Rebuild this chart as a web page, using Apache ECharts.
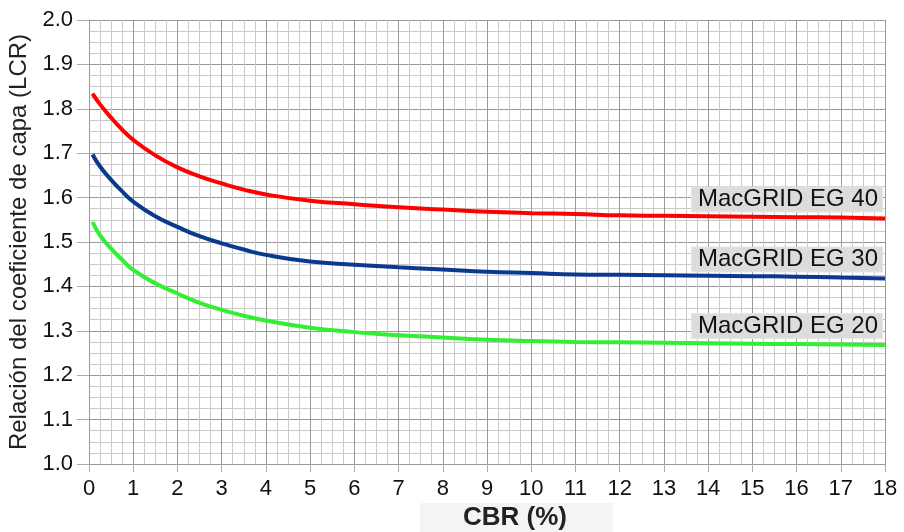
<!DOCTYPE html>
<html>
<head>
<meta charset="utf-8">
<script src="https://cdn.jsdelivr.net/npm/echarts@6/dist/echarts.min.js"></script>
<style>html,body{margin:0;padding:0;background:#fff}#c{width:904px;height:532px}</style>
</head>
<body>
<div id="c"></div>
<script>
const cbr = [0.08,0.25,0.5,0.75,1,1.5,2,2.5,3,3.5,4,5,6,7,8,9,10,11,12,13,14,15,16,17,18];
const eg40 = [1.834,1.81,1.78,1.753,1.730,1.695,1.668,1.648,1.632,1.618,1.607,1.593,1.585,1.578,1.573,1.568,1.565,1.563,1.560,1.559,1.558,1.557,1.556,1.555,1.553];
const eg30 = [1.697,1.67,1.64,1.614,1.591,1.558,1.534,1.513,1.497,1.483,1.471,1.456,1.449,1.443,1.438,1.433,1.430,1.427,1.426,1.425,1.424,1.423,1.422,1.420,1.418];
const eg20 = [1.545,1.515,1.485,1.46,1.437,1.407,1.384,1.363,1.347,1.334,1.323,1.307,1.297,1.290,1.285,1.280,1.277,1.275,1.274,1.273,1.272,1.271,1.270,1.269,1.268];
const seriesNames = ['MacGRID EG 40','MacGRID EG 30','MacGRID EG 20'];
const xTitle = 'CBR (%)';
const yTitle = 'Relación del coeficiente de capa (LCR)';

const FONT = 'Liberation Sans, Arial, sans-serif';
function mk(name, vals, color) {
  const data = cbr.map((x,i)=>[x, vals[i]]);
  const last = data.length - 1;
  return {
    type: 'line', name, data, smooth: true, symbol: 'none',
    lineStyle: {color, width: 4}, itemStyle: {color}, z: 3,
    markPoint: {
      symbol: 'circle', symbolSize: 0, silent: true, animation: false,
      data: [{coord: [cbr[last], vals[last]]}],
      label: {
        show: true, position: 'top', align: 'right', distance: 5, offset: [-3, -2],
        formatter: name, fontFamily: FONT, fontSize: 24, color: '#111',
        backgroundColor: '#dcdcdc', borderColor: '#e6e6e6', borderWidth: 1,
        padding: [0, 4, 0, 6], lineHeight: 24
      }
    }
  };
}
const chart = echarts.init(document.getElementById('c'), null, {renderer: 'canvas'});
chart.setOption({
  animation: false,
  backgroundColor: '#fff',
  grid: {left: 89, right: 19, top: 20, bottom: 68, containLabel: false, outerBoundsMode: 'none'},
  graphic: [{type: 'rect', z: -10, silent: true, shape: {x: 420, y: 503, width: 193, height: 29}, style: {fill: '#f4f4f4'}}],
  xAxis: {
    type: 'value', min: 0, max: 18, interval: 1,
    name: xTitle, nameLocation: 'middle', nameGap: 40,
    nameTextStyle: {fontFamily: FONT, fontSize: 26, fontWeight: 'bold', color: '#222', padding: [0,0,0,56]},
    axisLine: {show: true, lineStyle: {color: '#999', width: 1}},
    axisTick: {show: true, length: 8, lineStyle: {color: '#aaa'}},
    axisLabel: {fontFamily: FONT, fontSize: 22, color: '#111', margin: 14},
    splitLine: {show: true, lineStyle: {color: '#999', width: 1}},
    minorTick: {show: false, splitNumber: 4},
    minorSplitLine: {show: true, lineStyle: {color: '#cacaca', width: 1}}
  },
  yAxis: {
    type: 'value', min: 1, max: 2, interval: 0.1,
    name: yTitle, nameLocation: 'middle', nameGap: 50,
    nameTextStyle: {fontFamily: FONT, fontSize: 24, color: '#222', padding: [0,0,0,0]},
    axisLine: {show: true, lineStyle: {color: '#999', width: 1}},
    axisTick: {show: true, length: 12, lineStyle: {color: '#aaa'}},
    axisLabel: {fontFamily: FONT, fontSize: 22, color: '#111', margin: 16, formatter: v => v.toFixed(1)},
    splitLine: {show: true, lineStyle: {color: '#999', width: 1}},
    minorTick: {show: false, splitNumber: 4},
    minorSplitLine: {show: true, lineStyle: {color: '#cacaca', width: 1}}
  },
  series: [
    mk(seriesNames[0], eg40, '#ff0000'),
    mk(seriesNames[1], eg30, '#0a3a8e'),
    mk(seriesNames[2], eg20, '#33ee33')
  ]
});
</script>
</body>
</html>
